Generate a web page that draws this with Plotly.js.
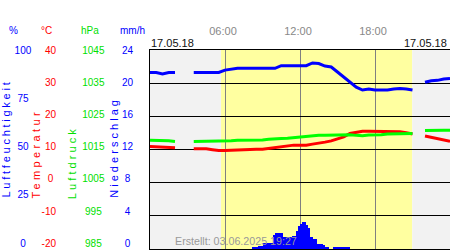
<!DOCTYPE html>
<html>
<head>
<meta charset="utf-8">
<script src="https://cdn.plot.ly/plotly-3.0.1.min.js"></script>
<style>
html,body{margin:0;padding:0;background:#fff;}
text[data-unformatted="Luftfeuchtigkeit"]{letter-spacing:2.75px;}
text[data-unformatted="Temperatur"]{letter-spacing:3.4px;}
text[data-unformatted="Luftdruck"]{letter-spacing:3.1px;}
text[data-unformatted="Niederschlag"]{letter-spacing:3.05px;}
</style>
</head>
<body>
<div id="chart" style="width:450px;height:250px;"></div>
<script>
// ---- data (17.05.2018) ----
const dateLabel = "17.05.18";
const createdLabel = "Erstellt: 03.06.2025 19:27";
const sunrise = "05:41";
const sunset = "20:59";

const times = ["00:00","00:30","01:00","01:30","02:00","02:30","03:00","03:30","04:00","04:30",
  "05:00","05:30","06:00","06:30","07:00","07:30","08:00","08:30","09:00","09:30",
  "10:00","10:30","11:00","11:30","12:00","12:30","13:00","13:30","14:00","14:30",
  "15:00","15:30","16:00","16:30","17:00","17:30","18:00","18:30","19:00","19:30",
  "20:00","20:30","21:00","21:30","22:00","22:30","23:00","23:30","24:00"];

const humidity = [88.4,88.4,87.6,88.4,88.4,null,null,88.4,88.4,88.4,
  88.4,88.4,89.6,90.0,90.5,90.5,90.5,90.5,90.5,90.5,
  90.5,91.9,91.9,91.9,91.9,91.9,93.3,93.0,91.7,91.2,
  88.6,86.0,83.6,80.8,79.3,79.8,79.3,79.3,79.3,79.8,
  80.1,79.8,79.3,null,83.3,84.1,84.3,85.0,85.3];

const temperature = [10.05,10.0,9.94,9.85,9.63,null,null,9.32,9.32,9.32,
  9.07,8.82,8.82,8.9,9.13,9.13,9.13,9.2,9.2,9.45,
  9.7,9.94,10.26,10.47,10.47,10.47,10.78,11.0,11.4,11.8,
  12.5,13.05,14.1,14.5,14.8,14.8,14.8,14.8,14.8,14.65,
  14.6,14.35,13.9,null,13.3,12.9,12.3,11.9,11.7];

const pressure = [1017.0,1017.0,1017.0,1016.8,1016.6,null,null,1016.6,1016.6,1016.6,
  1016.6,1016.6,1016.8,1016.8,1017.0,1017.0,1017.0,1017.0,1017.1,1017.3,
  1017.3,1017.5,1017.6,1017.8,1018.0,1018.3,1018.4,1018.5,1018.5,1018.6,
  1018.7,1018.7,1018.7,1018.5,1018.4,1018.6,1018.6,1018.7,1018.9,1018.9,
  1018.9,1019.0,1019.1,null,1020.0,1020.1,1020.1,1020.1,1020.1];

const rainTimes = ["08:10","08:20","08:30","08:40","08:50","09:00","09:10","09:20","09:30","09:40",
  "09:50","10:00","10:10","10:20","10:30","10:40","10:50","11:00","11:10","11:20",
  "11:30","11:40","11:50","12:00","12:10","12:20","12:30","12:40","12:50","13:00",
  "13:10","13:20","13:30","13:40","13:50","14:00","14:10","14:20","14:30","14:40",
  "14:50","15:00","15:10","15:20","15:30","15:40","15:50"];
const rain = [0.2,0.2,0.2,0.35,0.35,0.7,0.7,0.7,0.7,0.7,
  1.7,1.9,1.9,1.9,1.9,1.45,1.45,1.45,1.5,1.55,
  1.6,2.2,2.8,3.0,3.2,3.2,2.9,2.5,1.5,1.2,
  1.2,0.6,0.6,0.6,0.5,0.2,0.2,0,0,0.2,
  0.2,0.2,0.2,0.2,0.2,0.2,0.2];

const timeTickVals = ["06:00","12:00","18:00"];
const humTicks = [0,25,50,75,100];
const humTickText = ["0\u2007","25\u2008","50\u2008","75\u2008","100"];
const tempTicks = [-20,-10,0,10,20,30,40];
const tempTickText = ["-20","-10","0\u2008","10","20","30","40"];
const presTicks = [985,995,1005,1015,1025,1035,1045];
const presTickText = ["985\u2008","995\u2008","1005","1015","1025","1035","1045"];
const rainTicks = [0,4,8,12,16,20,24];
const rainTickText = ["0\u2008","4\u2008","8\u2008","12","16","20","24"];

// ---- helpers ----
const day = "2018-05-17 ";
const ts = t => t === "24:00" ? "2018-05-18 00:00" : day + t;
const W = 450, PT = 50, PB = 249;
const X = px => px / W;
const Y = py => (PB - py) / (PB - PT);
const pos = px => (px + 3) / W;

const BLUE = "#0000ff", RED = "#ff0000", GREEN = "#00ff00", GREENTXT = "#00e000";

const traces = [
  {type:"bar", x: rainTimes.map(ts), y: rain, xaxis:"x", yaxis:"y",
   width: 600000, offset: 0, marker:{color:BLUE, line:{width:0}}, hoverinfo:"skip"},
  {type:"scatter", mode:"lines", x: times.map(ts), y: pressure, yaxis:"y4",
   line:{color:GREEN, width:3}, connectgaps:false},
  {type:"scatter", mode:"lines", x: times.map(ts), y: temperature, yaxis:"y3",
   line:{color:RED, width:3}, connectgaps:false},
  {type:"scatter", mode:"lines", x: times.map(ts), y: humidity, yaxis:"y2",
   line:{color:BLUE, width:3}, connectgaps:false},
  // carries the precipitation tick-label axis
  {type:"scatter", mode:"lines", x: [ts("00:00")], y: [null], yaxis:"y5", hoverinfo:"skip"}
];

const labelAxis = (px, range, vals, text, color) => ({
  overlaying:"y", anchor:"free", position: pos(px), side:"left", range: range,
  tickmode:"array", tickvals: vals, ticktext: text, ticks:"", ticklabelstandoff:0,
  tickfont:{color: color, size:10}, showgrid:false, zeroline:false, showline:false, fixedrange:true
});

const ann = (text, px, py, color, extra) => Object.assign({
  text: text, xref:"paper", yref:"paper", x: X(px), y: Y(py), showarrow:false,
  font:{color: color, size:10}, xanchor:"center", yanchor:"middle", borderpad:0, borderwidth:0
}, extra || {});

const layout = {
  width: 450, height: 250,
  margin:{l:0, r:0, t:PT, b:250-PB, pad:0},
  paper_bgcolor:"#ffffff", plot_bgcolor:"#ffffff", showlegend:false,
  font:{family:"Liberation Sans, Arial, sans-serif", size:10},
  bargap:0,
  xaxis:{type:"date", domain:[X(150),1], range:[ts("00:00"), ts("24:00")], side:"top", anchor:"y",
    tickmode:"array", tickvals: timeTickVals.map(ts), ticktext: timeTickVals, ticks:"",
    ticklabelshift:-2, ticklabelstandoff:10,
    tickfont:{color:"#888888", size:11}, showgrid:true, gridcolor:"#808080", gridwidth:1,
    showline:true, mirror:true, linecolor:"#000000", linewidth:1, zeroline:false, fixedrange:true},
  // precipitation data axis; its grid gives the six horizontal bands
  yaxis:{domain:[0,1], range:[0,24], tickmode:"linear", tick0:0, dtick:4, showticklabels:false,
    ticks:"", showgrid:true, gridcolor:"#000000", gridwidth:1, showline:true, linecolor:"#000000",
    linewidth:1, zeroline:false, fixedrange:true},
  yaxis2: labelAxis(28.3, [-2.95,100], humTicks, humTickText, BLUE),
  yaxis3: labelAxis(53, [-21.77,40], tempTicks, tempTickText, RED),
  yaxis4: labelAxis(101.5, [983.23,1045], presTicks, presTickText, GREENTXT),
  yaxis5: labelAxis(130, [-0.708,24], rainTicks, rainTickText, BLUE),
  shapes:[
    {type:"rect", layer:"below", xref:"x", yref:"paper", x0:ts("00:00"), x1:ts(sunrise), y0:0, y1:1,
     fillcolor:"#f2f2f2", line:{width:0}},
    {type:"rect", layer:"below", xref:"x", yref:"paper", x0:ts(sunrise), x1:ts(sunset), y0:0, y1:1,
     fillcolor:"#ffffa0", line:{width:0}},
    {type:"rect", layer:"below", xref:"x", yref:"paper", x0:ts(sunset), x1:ts("24:00"), y0:0, y1:1,
     fillcolor:"#f2f2f2", line:{width:0}}
  ],
  annotations:[
    ann("%", 13.5, 30.7, BLUE),
    ann("°C", 46, 30.7, RED),
    ann("hPa", 89.7, 30.7, GREENTXT),
    ann("mm/h", 132, 30.7, BLUE),
    ann(dateLabel, 150.5, 43, "#111111", {xanchor:"left", font:{color:"#111111", size:11}}),
    ann(dateLabel, 447, 43, "#111111", {xanchor:"right", font:{color:"#111111", size:11}}),
    ann("Luftfeuchtigkeit", 5.5, 139, BLUE, {textangle:-90, font:{color:BLUE, size:11}}),
    ann("Temperatur", 35, 153.5, RED, {textangle:-90, font:{color:RED, size:11}}),
    ann("Luftdruck", 71.7, 162.5, GREENTXT, {textangle:-90, font:{color:GREENTXT, size:11}}),
    ann("Niederschlag", 113.3, 147.5, BLUE, {textangle:-90, font:{color:BLUE, size:11}}),
    ann(createdLabel, 236, 241, "#999999", {font:{color:"#999999", size:10.7}})
  ]
};

Plotly.newPlot("chart", traces, layout, {displayModeBar:false, staticPlot:true});
</script>
</body>
</html>
